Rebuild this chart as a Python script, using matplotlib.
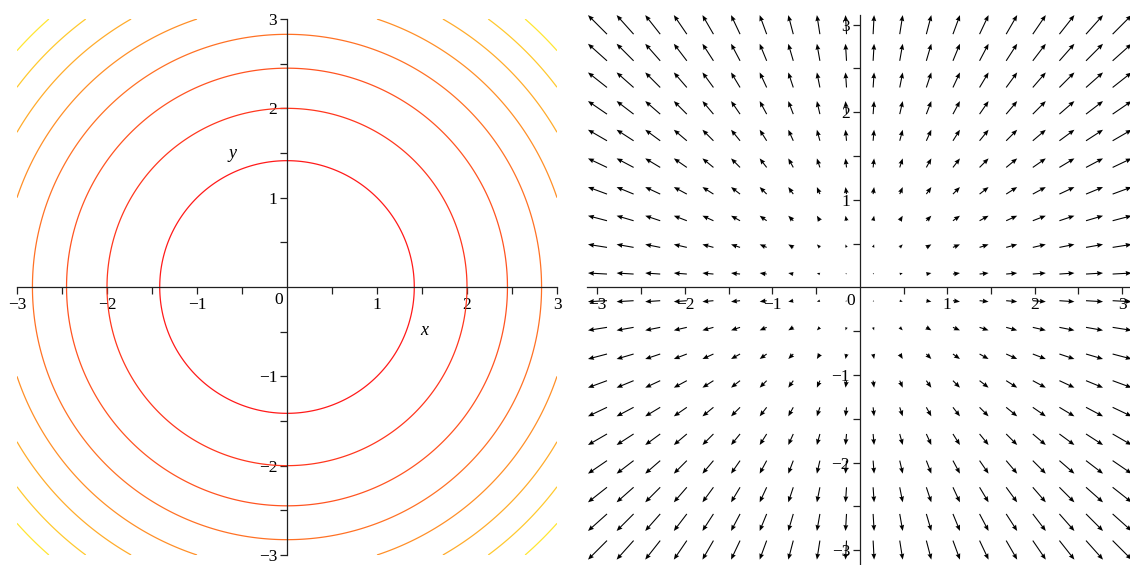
import numpy as np
import matplotlib
matplotlib.use("Agg")
import matplotlib.pyplot as plt
from matplotlib.colors import LinearSegmentedColormap

# contour levels of f(x, y) = x^2 + y^2
levels = [2, 4, 6, 8, 10, 12, 14, 16]
# grid of the field plot (20 x 20 arrows on [-3, 3])
field_x = np.linspace(-3, 3, 20)
field_y = np.linspace(-3, 3, 20)
major_ticks = [-3, -2, -1, 1, 2, 3]
minor_ticks = [-2.5, -1.5, -0.5, 0.5, 1.5, 2.5]

plt.rcParams['font.family'] = ['Liberation Serif', 'DejaVu Serif']


def maple_axes(ax, fs=12.5):
    for s in ['top', 'right']:
        ax.spines[s].set_visible(False)
    for s in ['left', 'bottom']:
        ax.spines[s].set_position(('data', 0))
        ax.spines[s].set_linewidth(0.9)
        ax.spines[s].set_color('#202020')
    ax.set_xticks(major_ticks)
    ax.set_yticks(major_ticks)
    ax.set_xticks(minor_ticks, minor=True)
    ax.set_yticks(minor_ticks, minor=True)
    ax.tick_params(which='both', direction='out', length=5, width=0.9,
                   color='#202020', labelsize=fs, pad=2)
    ax.patch.set_alpha(0)


fig = plt.figure(figsize=(11.3, 5.65), dpi=100)

# left: contour plot
ax1 = fig.add_axes([17 / 1130, 10 / 565, 540 / 1130, 536 / 565])
gx = np.linspace(-3, 3, 241)
X, Y = np.meshgrid(gx, gx)
Z = X ** 2 + Y ** 2
cmap = LinearSegmentedColormap.from_list('ry', ['#ff1a1a', '#ffe633'])
cols = [cmap(i / (len(levels) - 1)) for i in range(len(levels))]
ax1.contour(X, Y, Z, levels=levels, colors=cols, linewidths=0.9)
ax1.set_xlim(-3, 3)
ax1.set_ylim(-3, 3)
maple_axes(ax1)
ax1.text(-0.09, -0.06, '0', ha='center', va='top', fontsize=12.5)
ax1.text(1.52, -0.49, 'x', ha='center', va='center', fontsize=13, style='italic')
ax1.text(-0.61, 1.49, 'y', ha='center', va='center', fontsize=13, style='italic')

# right: gradient field
ax2 = fig.add_axes([587 / 1130, 0, 543 / 1130, 550 / 565])
FX, FY = np.meshgrid(field_x, field_y)
U, V = FX, FY
ax2.quiver(FX, FY, U, V, angles='xy', scale_units='xy', scale=13.8,
           pivot='middle', color='black', width=0.002,
           headwidth=4.5, headlength=5.5, headaxislength=5, clip_on=False)
ax2.set_xlim(-3.12, 3.09)
ax2.set_ylim(-3.17, 3.11)
maple_axes(ax2)
ax2.text(-0.1, -0.06, '0', ha='center', va='top', fontsize=12.5)

fig.savefig('out.png', dpi=100)
